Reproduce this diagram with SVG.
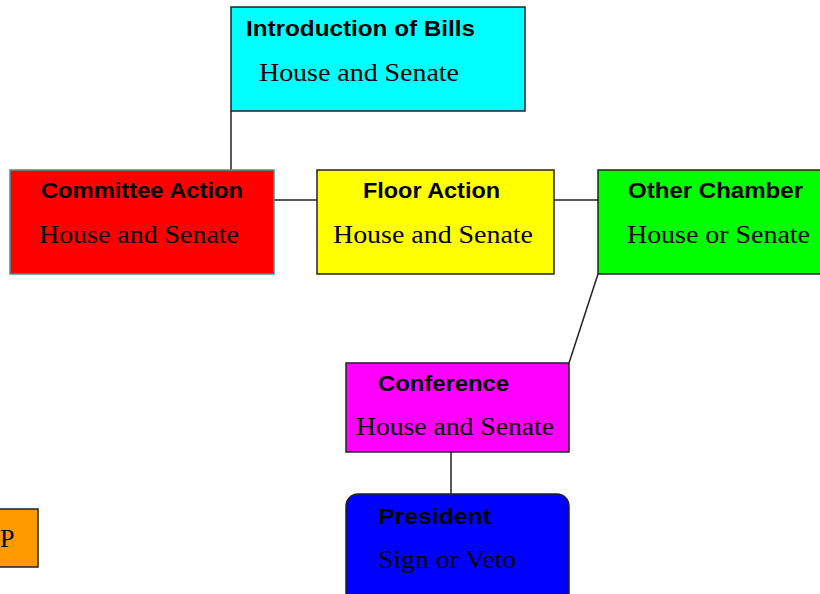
<svg xmlns="http://www.w3.org/2000/svg" width="820" height="594" viewBox="0 0 820 594">
<style>
.box{stroke:#222;stroke-width:1.5}
.t{font-family:"Liberation Sans",Arial,sans-serif;font-weight:bold;font-size:22.5px;fill:#000}
.s{font-family:"Liberation Serif","Times New Roman",serif;font-size:26px;fill:#000}
.c{stroke:#222;stroke-width:1.5;fill:none}
</style>
<rect width="820" height="594" fill="#fff"/>
<g id="connectors">
<line class="c" x1="231" y1="111" x2="231" y2="170"/>
<line class="c" x1="274" y1="200" x2="317" y2="200"/>
<line class="c" x1="554" y1="200" x2="598" y2="200"/>
<line class="c" x1="598" y1="274" x2="569" y2="363"/>
<line class="c" x1="451" y1="452" x2="451" y2="494"/>
</g>
<g id="intro">
<rect class="box" x="231" y="7" width="294" height="104" fill="#00ffff"/>
<text class="t" x="246" y="36" textLength="229" lengthAdjust="spacingAndGlyphs">Introduction of Bills</text>
<text class="s" x="259" y="81" textLength="200" lengthAdjust="spacingAndGlyphs">House and Senate</text>
</g>
<g id="committee">
<rect x="10" y="170" width="264" height="104" fill="#ff0000" stroke="#3a9a9a" stroke-width="1.5"/>
<text class="t" x="41" y="198" textLength="202" lengthAdjust="spacingAndGlyphs">Committee Action</text>
<text class="s" x="39" y="243" textLength="200" lengthAdjust="spacingAndGlyphs">House and Senate</text>
</g>
<g id="floor">
<rect class="box" x="317" y="170" width="237" height="104" fill="#ffff00"/>
<text class="t" x="363" y="198" textLength="137" lengthAdjust="spacingAndGlyphs">Floor Action</text>
<text class="s" x="333" y="243" textLength="200" lengthAdjust="spacingAndGlyphs">House and Senate</text>
</g>
<g id="other">
<rect class="box" x="598" y="170" width="240" height="104" fill="#00ff00"/>
<text class="t" x="628" y="198" textLength="175" lengthAdjust="spacingAndGlyphs">Other Chamber</text>
<text class="s" x="627" y="243" textLength="183" lengthAdjust="spacingAndGlyphs">House or Senate</text>
</g>
<g id="conference">
<rect class="box" x="346" y="363" width="223" height="89" fill="#ff00ff"/>
<text class="t" x="378" y="391" textLength="131" lengthAdjust="spacingAndGlyphs">Conference</text>
<text class="s" x="356" y="435" textLength="198" lengthAdjust="spacingAndGlyphs">House and Senate</text>
</g>
<g id="president">
<rect class="box" x="346" y="494" width="223" height="120" rx="12" ry="12" fill="#0000ff"/>
<text class="t" x="378" y="524" textLength="113" lengthAdjust="spacingAndGlyphs">President</text>
<text class="s" x="378" y="568" textLength="138" lengthAdjust="spacingAndGlyphs">Sign or Veto</text>
</g>
<g id="orange">
<rect class="box" x="-10" y="509" width="48" height="58" fill="#ff9900"/>
<text class="s" x="0" y="547">P</text>
</g>
</svg>
